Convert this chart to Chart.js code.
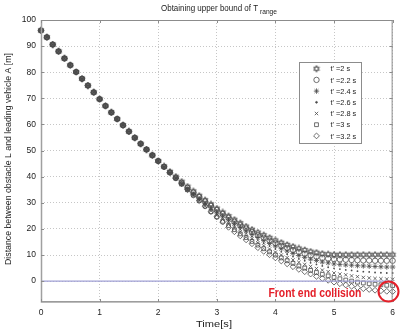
<!DOCTYPE html>
<html>
<head>
<meta charset="utf-8">
<script src="https://cdn.jsdelivr.net/npm/chart.js@4.4.0/dist/chart.umd.min.js"></script>
<style>
  html, body { margin: 0; padding: 0; background: #fff; overflow: hidden; }
  canvas { display: block; }
</style>
</head>
<body>
<canvas id="myChart" width="401" height="332"></canvas>
<script>
// time axis (s), one sample every 0.1 s
const times = [0, 0.1, 0.2, 0.3, 0.4, 0.5, 0.6, 0.7, 0.8, 0.9,
    1, 1.1, 1.2, 1.3, 1.4, 1.5, 1.6, 1.7, 1.8, 1.9,
    2, 2.1, 2.2, 2.3, 2.4, 2.5, 2.6, 2.7, 2.8, 2.9,
    3, 3.1, 3.2, 3.3, 3.4, 3.5, 3.6, 3.7, 3.8, 3.9,
    4, 4.1, 4.2, 4.3, 4.4, 4.5, 4.6, 4.7, 4.8, 4.9,
    5, 5.1, 5.2, 5.3, 5.4, 5.5, 5.6, 5.7, 5.8, 5.9, 6];

// part that all curves share, t = 0 .. 3.2
const common = [96.0, 93.4, 90.6, 88.0, 85.3, 82.7, 80.1, 77.5, 74.9, 72.3,
    69.7, 67.1, 64.6, 62.1, 59.7, 57.3, 54.9, 52.6, 50.4, 48.2,
    46.0, 43.8, 41.6, 39.4, 37.2, 35.0, 32.9, 30.8, 28.7, 26.6,
    24.6, 22.6, 20.6];

// each curve after its own t' (first value is t' + 0.1)
const tail20 = [43.9, 41.9, 40.0, 38.1, 36.2, 34.4, 32.7, 31.0, 29.4, 27.8, 26.3, 24.9,
    23.5, 22.2, 20.9, 19.7, 18.6, 17.6, 16.6, 15.6, 14.7, 13.9, 13.2, 12.5, 11.9, 11.3,
    10.9, 10.5, 10.3, 10.1, 10.1, 10.1, 10.1, 10.1, 10.1, 10.1, 10.1, 10.1, 10.1, 10.1];
const tail22 = [39.6, 37.6, 35.7, 33.9, 32.2, 30.5, 28.8, 27.2, 25.7, 24.2,
    22.7, 21.4, 20.1, 18.8, 17.6, 16.6, 15.5, 14.5, 13.5, 12.7, 11.9, 11.2, 10.5, 9.9,
    9.4, 8.9, 8.6, 8.4, 8.3, 8.2, 8.1, 8.0, 7.9, 7.9, 7.8, 7.8, 7.8, 7.8];
const tail24 = [35.2, 33.3, 31.5, 29.8, 28.1, 26.5, 25.0, 23.5,
    22.0, 20.6, 19.2, 17.9, 16.7, 15.5, 14.4, 13.4, 12.4, 11.5, 10.6, 9.8, 9.1, 8.4,
    7.9, 7.3, 7.0, 6.6, 6.4, 6.2, 6.1, 5.9, 5.8, 5.7, 5.6, 5.5, 5.4, 5.4];
const tail26 = [31.0, 29.2, 27.5, 25.9, 24.3, 22.8,
    21.2, 19.8, 18.4, 17.0, 15.7, 14.5, 13.4, 12.3, 11.2, 10.3, 9.4, 8.5, 7.8, 7.0,
    6.4, 5.8, 5.3, 4.9, 4.6, 4.3, 4.1, 3.8, 3.6, 3.5, 3.3, 3.2, 3.1, 3.1];
const tail28 = [26.9, 25.2, 23.6, 22.0,
    20.4, 18.9, 17.5, 16.1, 14.7, 13.5, 12.3, 11.1, 10.0, 9.0, 8.1, 7.2, 6.4, 5.6,
    4.8, 4.2, 3.6, 3.1, 2.7, 2.4, 2.0, 1.7, 1.4, 1.2, 1.0, 0.9, 0.8, 0.7];
const tail30 = [22.9, 21.3,
    19.7, 18.1, 16.7, 15.2, 13.8, 12.4, 11.2, 10.0, 8.9, 7.8, 6.8, 5.8, 5.0, 4.1,
    3.3, 2.6, 2.0, 1.4, 0.9, 0.4, 0.0, -0.4, -0.7, -1.0, -1.2, -1.4, -1.6, -1.7];
const tail32 = [18.9, 17.3, 15.8, 14.3, 12.8, 11.4, 10.1, 8.9, 7.7, 6.6, 5.5, 4.5,
    3.6, 2.7, 1.8, 1.0, 0.3, -0.4, -1.0, -1.5, -2.0, -2.5, -2.9, -3.2, -3.5, -3.7, -3.9, -4.0];

const legendLabels = ["t' =2 s", "t' =2.2 s", "t' =2.4 s", "t' =2.6 s", "t' =2.8 s", "t' =3 s", "t' =3.2 s"];
const zeroX = [0, 6];
const zeroY = [0, 0];
const xTicks = [0, 1, 2, 3, 4, 5, 6];
const yTicks = [0, 10, 20, 30, 40, 50, 60, 70, 80, 90, 100];

const series = [
    common.slice(0, 21).concat(tail20),
    common.slice(0, 23).concat(tail22),
    common.slice(0, 25).concat(tail24),
    common.slice(0, 27).concat(tail26),
    common.slice(0, 29).concat(tail28),
    common.slice(0, 31).concat(tail30),
    common.slice(0, 33).concat(tail32)
];

const FONT = "'Liberation Sans', Arial, sans-serif";
const MARK = '#4a4a4a';

/**
 * small hexagram used as marker for the first curve
 */
function makeHexagram() {
    const c = document.createElement('canvas');
    c.width = 8;
    c.height = 8;
    const g = c.getContext('2d');
    g.strokeStyle = MARK;
    g.lineWidth = 0.8;
    for (let k = 0; k < 2; k++) {
        g.beginPath();
        for (let j = 0; j < 3; j++) {
            const a = (k === 0 ? -Math.PI / 2 : Math.PI / 2) + j * 2 * Math.PI / 3;
            const px = 4 + 3.3 * Math.cos(a), py = 4 + 3.3 * Math.sin(a);
            if (j === 0) g.moveTo(px, py); else g.lineTo(px, py);
        }
        g.closePath();
        g.stroke();
    }
    return c;
}

const hexagram = makeHexagram();
const markers = [
    { pointStyle: hexagram, radius: 3 },
    { pointStyle: 'circle', radius: 2.7 },
    { pointStyle: 'star', radius: 2.7 },
    { pointStyle: 'circle', radius: 0.9, fill: true },
    { pointStyle: 'crossRot', radius: 2.4 },
    { pointStyle: 'rect', radius: 2.7 },
    { pointStyle: 'rectRot', radius: 2.9 }
];

function toPoints(xs, ys) {
    return xs.map((x, i) => ({ x: x, y: ys[i] }));
}

const datasets = [{
    label: 'zero',
    data: toPoints(zeroX, zeroY),
    showLine: true,
    borderColor: '#9f9fd4',
    borderWidth: 1.4,
    pointRadius: 0
}];
series.forEach((s, i) => {
    const m = markers[i];
    datasets.push({
        label: legendLabels[i],
        data: toPoints(times, s),
        showLine: false,
        pointStyle: m.pointStyle,
        pointRadius: m.radius,
        borderColor: MARK,
        backgroundColor: m.fill ? MARK : 'rgba(0,0,0,0)',
        borderWidth: m.fill ? 0 : 0.8,
        clip: false
    });
});

/**
 * draws text with a given font size, squeezed or stretched to a given width
 */
function fitText(ctx, text, x, y, size, width, weight) {
    ctx.font = (weight || 'normal') + ' ' + size + 'px ' + FONT;
    const w = ctx.measureText(text).width;
    ctx.save();
    ctx.translate(x, y);
    ctx.scale(width / w, 1);
    ctx.fillText(text, 0, 0);
    ctx.restore();
}

const decorations = {
    id: 'decorations',
    beforeDraw(chart) {
        const ctx = chart.ctx;
        ctx.save();
        ctx.fillStyle = '#fff';
        ctx.fillRect(0, 0, chart.width, chart.height);
        ctx.restore();
    },
    afterDraw(chart) {
        const ctx = chart.ctx;
        const a = chart.chartArea;
        const xs = chart.scales.x, ys = chart.scales.y;
        ctx.save();

        // axes box and inner ticks
        ctx.strokeStyle = '#8c8c8c';
        ctx.lineWidth = 1;
        ctx.strokeRect(a.left + 0.5, a.top + 0.5, a.right - a.left - 1, a.bottom - a.top - 1);
        ctx.strokeStyle = '#a0a0a0';
        ctx.lineWidth = 1.5;
        ctx.beginPath();
        ctx.moveTo(a.left + 0.5, a.top);
        ctx.lineTo(a.left + 0.5, a.bottom);
        ctx.lineTo(a.right, a.bottom - 0.5);
        ctx.stroke();
        ctx.strokeStyle = '#8c8c8c';
        ctx.lineWidth = 1;
        ctx.beginPath();
        xTicks.forEach(v => {
            const px = Math.round(xs.getPixelForValue(v)) + 0.5;
            ctx.moveTo(px, a.bottom); ctx.lineTo(px, a.bottom - 3);
            ctx.moveTo(px, a.top); ctx.lineTo(px, a.top + 3);
        });
        yTicks.forEach(v => {
            const py = Math.round(ys.getPixelForValue(v)) + 0.5;
            ctx.moveTo(a.left, py); ctx.lineTo(a.left + 3, py);
            ctx.moveTo(a.right, py); ctx.lineTo(a.right - 3, py);
        });
        ctx.stroke();

        // title with subscript
        ctx.fillStyle = '#222';
        ctx.textBaseline = 'alphabetic';
        ctx.textAlign = 'left';
        fitText(ctx, 'Obtaining upper bound of T', 161, 10.5, 9.5, 97);
        fitText(ctx, 'range', 260, 14, 6.5, 17);

        // axis titles
        ctx.textBaseline = 'middle';
        fitText(ctx, 'Time[s]', 196, 324, 9.5, 36);
        ctx.save();
        ctx.translate(9, 265);
        ctx.rotate(-Math.PI / 2);
        fitText(ctx, 'Distance between obstacle L and leading vehicle A [m]', 0, 0, 8.5, 212);
        ctx.restore();

        // legend box
        const lx = 299, ly = 62, lw = 62, lh = 81;
        ctx.fillStyle = '#fff';
        ctx.fillRect(lx, ly, lw, lh);
        ctx.strokeStyle = '#8c8c8c';
        ctx.lineWidth = 1;
        ctx.strokeRect(lx + 0.5, ly + 0.5, lw, lh);
        legendLabels.forEach((lab, i) => {
            const ry = 68.7 + i * 11.2;
            const m = markers[i];
            ctx.strokeStyle = MARK;
            ctx.fillStyle = m.fill ? MARK : 'rgba(0,0,0,0)';
            ctx.lineWidth = m.fill ? 0 : 0.8;
            Chart.helpers.drawPoint(ctx, { pointStyle: m.pointStyle, radius: m.radius, rotation: 0, borderWidth: ctx.lineWidth }, 316.5, ry);
            ctx.fillStyle = '#222';
            ctx.font = '8px ' + FONT;
            const w = ctx.measureText(lab).width;
            fitText(ctx, lab, 330.5, ry + 0.5, 8, w * 0.92);
        });

        // collision note
        ctx.fillStyle = '#e4202a';
        fitText(ctx, 'Front end collision', xs.getPixelForValue(3.88), ys.getPixelForValue(-4.8), 12, 93, 'bold');
        ctx.strokeStyle = '#e4202a';
        ctx.lineWidth = 2;
        ctx.beginPath();
        ctx.arc(xs.getPixelForValue(5.93), ys.getPixelForValue(-4.0), 10, 0, 2 * Math.PI);
        ctx.stroke();
        ctx.restore();
    }
};

const canvas = document.getElementById('myChart');
const ctx = canvas.getContext('2d');
const myChart = new Chart(ctx, {
    type: 'scatter',
    data: { datasets: datasets },
    options: {
        responsive: false,
        animation: false,
        layout: { padding: { left: 0, right: 4, top: 20, bottom: 0 } },
        plugins: { legend: { display: false }, tooltip: { enabled: false } },
        scales: {
            x: {
                type: 'linear', min: 0, max: 6,
                afterBuildTicks: s => { s.ticks = xTicks.map(v => ({ value: v })); },
                afterFit: s => { s.height = 30; },
                grid: { color: '#c6c6c6', drawTicks: false },
                border: { display: false, dash: [1, 2] },
                ticks: { padding: 6, color: '#222', font: { family: FONT, size: 8.5 }, maxRotation: 0, autoSkip: false }
            },
            y: {
                type: 'linear', min: -8, max: 100,
                afterBuildTicks: s => { s.ticks = yTicks.map(v => ({ value: v })); },
                afterFit: s => { s.width = 41; },
                grid: { color: '#c6c6c6', drawTicks: false },
                border: { display: false, dash: [1, 2] },
                ticks: { padding: 5, color: '#222', font: { family: FONT, size: 8.5 } }
            }
        }
    },
    plugins: [decorations]
});
</script>
</body>
</html>
